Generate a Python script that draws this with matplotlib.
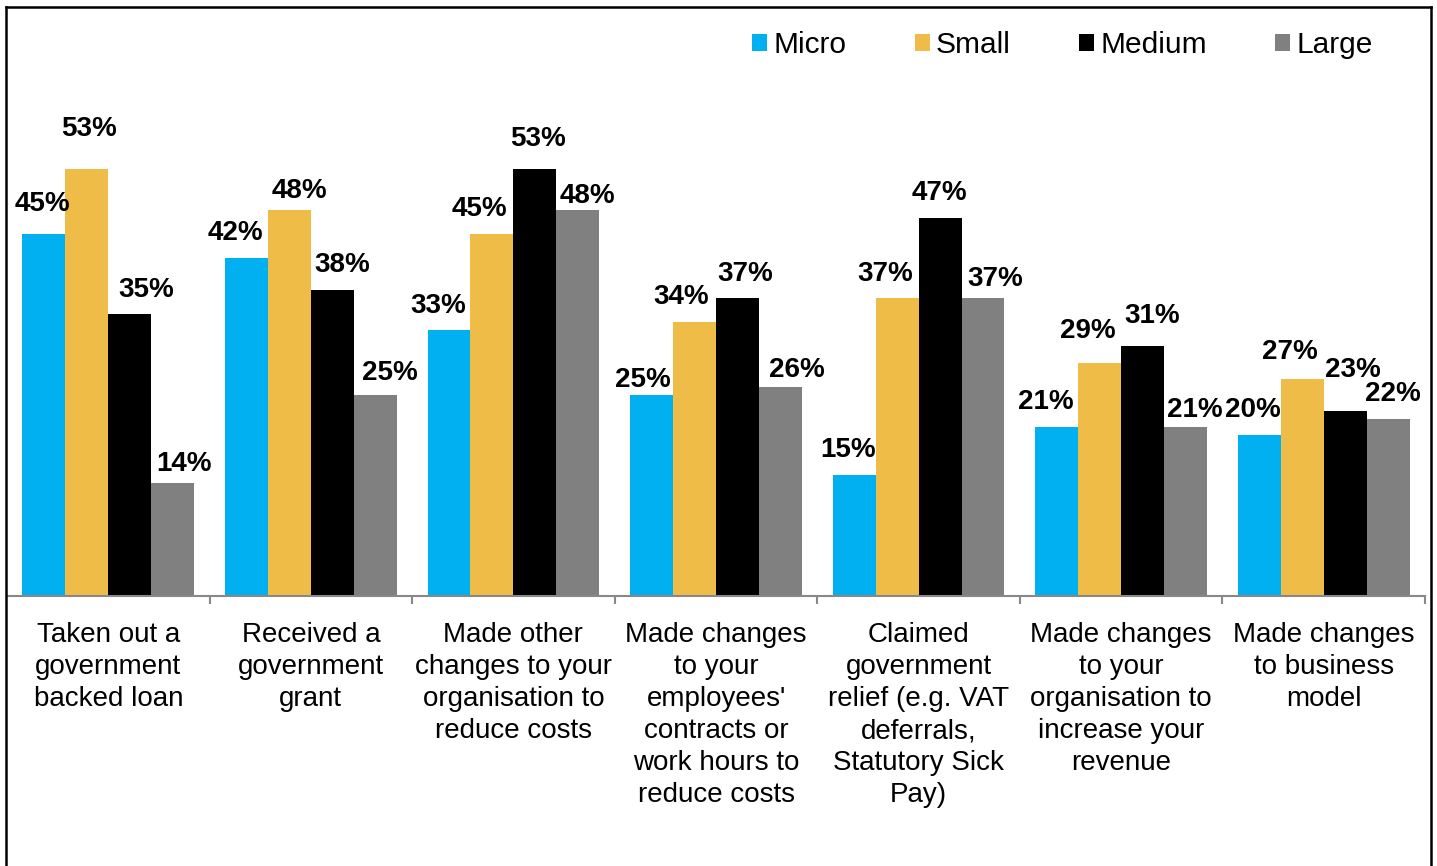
import matplotlib
matplotlib.use("Agg")
import matplotlib.pyplot as plt
from matplotlib.lines import Line2D
from matplotlib.patches import Patch
import numpy as np

plt.rcParams["font.family"] = ["Liberation Sans", "DejaVu Sans"]

categories = [
    "Taken out a\ngovernment\nbacked loan",
    "Received a\ngovernment\ngrant",
    "Made other\nchanges to your\norganisation to\nreduce costs",
    "Made changes\nto your\nemployees'\ncontracts or\nwork hours to\nreduce costs",
    "Claimed\ngovernment\nrelief (e.g. VAT\ndeferrals,\nStatutory Sick\nPay)",
    "Made changes\nto your\norganisation to\nincrease your\nrevenue",
    "Made changes\nto business\nmodel",
]
series_names = ["Micro", "Small", "Medium", "Large"]
micro = [45, 42, 33, 25, 15, 21, 20]
small = [53, 48, 45, 34, 37, 29, 27]
medium = [35, 38, 53, 37, 47, 31, 23]
large = [14, 25, 48, 26, 37, 21, 22]

colors = ["#00B0F0", "#F0BC48", "#000000", "#808080"]

# label nudges in pixels (dx, dy to the centre of the figures) per group, per series
label_offsets = [
    [(-1, 33), (2, 43), (16, 27), (11, 22)],
    [(-11, 28), (10, 22), (10, 28), (15, 25)],
    [(-11, 27), (-13, 28), (3, 33), (10, 17)],
    [(-9, 18), (-13, 28), (8, 27), (16, 20)],
    [(-6, 28), (-12, 27), (-1, 28), (12, 22)],
    [(-11, 28), (-12, 35), (10, 33), (9, 20)],
    [(-6, 28), (-12, 30), (8, 44), (5, 28)],
]

W, H = 1437, 866
fig = plt.figure(figsize=(W / 100, H / 100), dpi=100)
ax = fig.add_axes([7 / W, (H - 596) / H, 1418 / W, 483 / H])

n = len(categories)
centers = np.arange(n) + 0.5
bar_w = 0.212
all_series = [micro, small, medium, large]

for j, (name, vals, col) in enumerate(zip(series_names, all_series, colors)):
    xs = centers + (j - 1.5) * bar_w
    ax.bar(xs, vals, width=bar_w, color=col, label=name, linewidth=0)
    for i, (x, v) in enumerate(zip(xs, vals)):
        dx, dy = label_offsets[i][j]
        ax.annotate(f"{v}%", xy=(x, v), xytext=(dx, dy - 10),
                    textcoords="offset pixels", ha="center", va="baseline",
                    fontsize=20, fontweight="bold", color="#000000")

ax.set_xlim(0, n)
ax.set_ylim(0, 60)
ax.set_yticks([])
for s in ["top", "right", "left"]:
    ax.spines[s].set_visible(False)
ax.spines["bottom"].set_color("#888888")
ax.spines["bottom"].set_linewidth(1.5)

# separators between groups as major ticks, category names on minor ticks
ax.set_xticks(np.arange(1, n + 1))
ax.set_xticklabels([])
ax.tick_params(axis="x", which="major", length=5.8, width=1.5, color="#888888",
               direction="out")
ax.set_xticks(centers, minor=True)
ax.set_xticklabels(categories, minor=True, fontsize=20, linespacing=1.30)
ax.tick_params(axis="x", which="minor", length=0, pad=19)

handles = [Patch(facecolor=c, edgecolor="none") for c in colors]
fig.legend(handles, series_names, loc="center left",
           bbox_to_anchor=(752 / W, 1 - 45 / H), ncol=4, frameon=False,
           fontsize=21.5, handlelength=0.5, handleheight=0.5,
           handletextpad=0.22, columnspacing=2.28, borderpad=0,
           borderaxespad=0)

# frame round the chart (open at the bottom)
lw = 1.8
fig.add_artist(Line2D([6 / W, 6 / W], [0, 1 - 7 / H], color="black", lw=lw))
fig.add_artist(Line2D([6 / W, 1431 / W], [1 - 7 / H, 1 - 7 / H], color="black", lw=lw))
fig.add_artist(Line2D([1431 / W, 1431 / W], [0, 1 - 7 / H], color="black", lw=lw))

fig.savefig("out.png", dpi=100)
